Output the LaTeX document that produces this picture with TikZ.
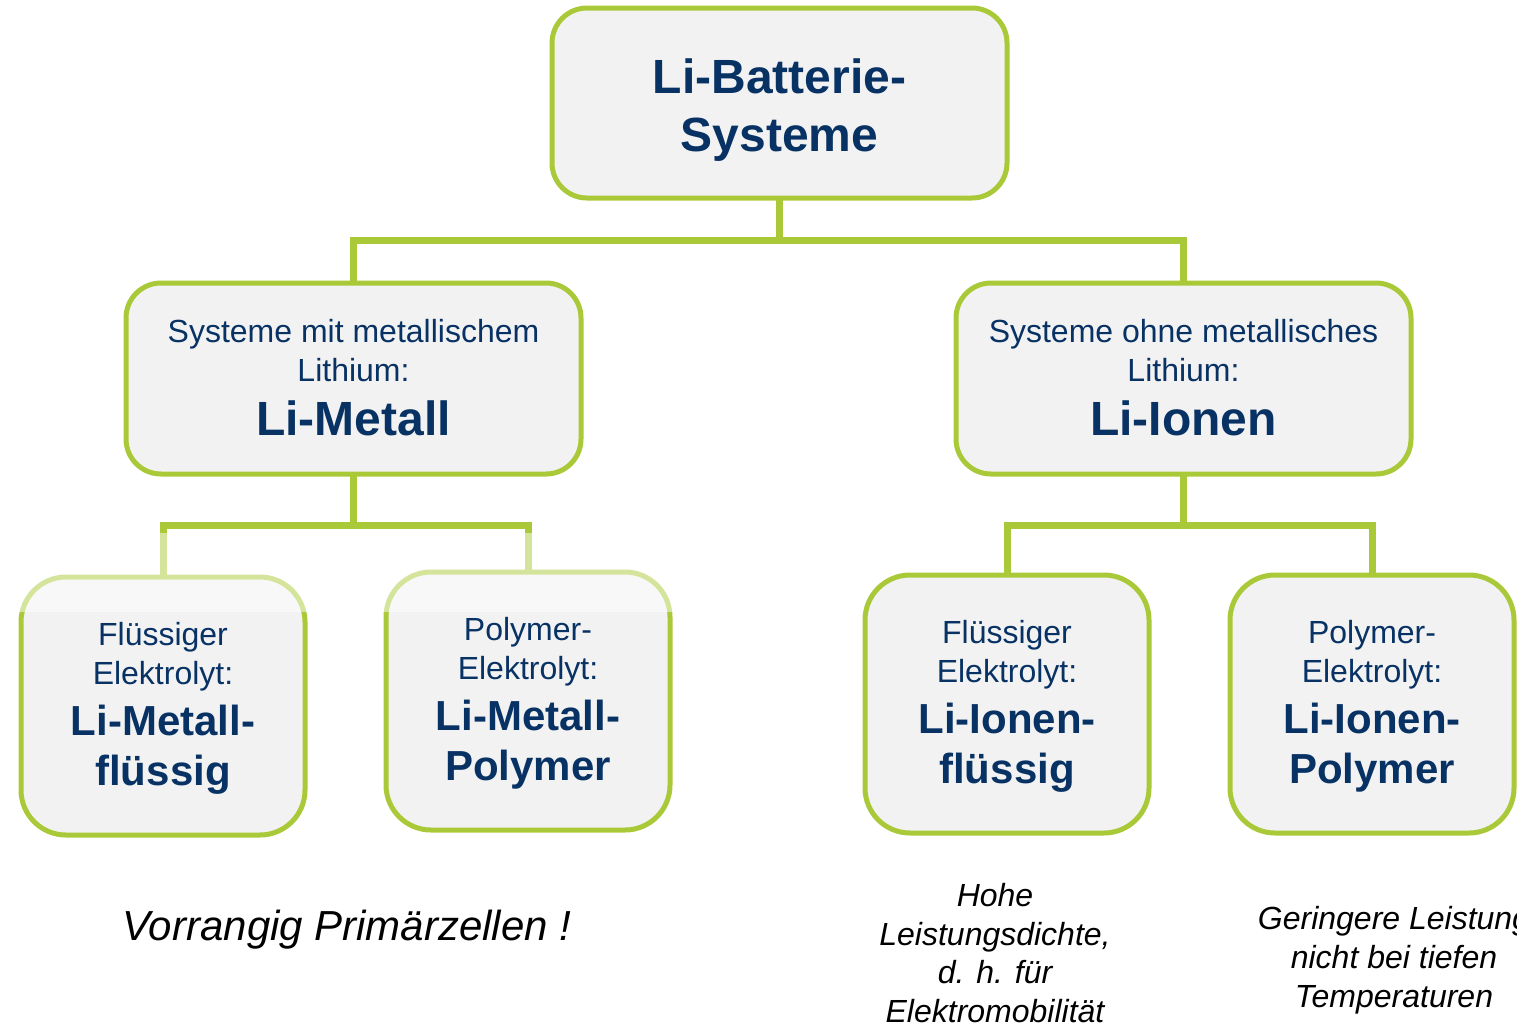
\documentclass[tikz,border=0pt]{standalone}
\usepackage{fontspec}
\setmainfont{Liberation Sans}
\definecolor{lgreen}{RGB}{170,201,56}
\definecolor{navy}{RGB}{8,50,100}
\definecolor{boxfill}{RGB}{242,242,242}
\tikzset{
  box/.style={draw=lgreen, fill=boxfill, line width=5pt, rounded corners=#1, inner sep=0pt, outer sep=0pt},
  conn/.style={draw=lgreen, line width=7pt},
  small/.style={anchor=base, inner sep=0pt, text=navy, font={\fontsize{32pt}{38pt}\selectfont}},
  bigA/.style={anchor=base, inner sep=0pt, text=navy, font={\fontsize{48pt}{58pt}\selectfont\bfseries}},
  bigB/.style={anchor=base, inner sep=0pt, text=navy, font={\fontsize{42pt}{50pt}\selectfont\bfseries}},
  note/.style={anchor=base, inner sep=0pt, text=black, font={\fontsize{32pt}{38pt}\selectfont\itshape}},
  notebig/.style={anchor=base, inner sep=0pt, text=black, font={\fontsize{42pt}{50pt}\selectfont\itshape}},
}
\begin{document}
\begin{tikzpicture}[x=1pt, y=-1pt]
\useasboundingbox (0,0) rectangle (1517,1026);
% boxes
\node[box=35pt, minimum width=455pt, minimum height=190pt] (top) at (779.5,103) {};
\node[box=35pt, minimum width=455pt, minimum height=191pt] (ml) at (353.5,378.5) {};
\node[box=35pt, minimum width=455pt, minimum height=191pt] (mr) at (1183.5,378.5) {};
\node[box=45pt, minimum width=284pt, minimum height=258pt] (bl1) at (163,706) {};
\node[box=45pt, minimum width=284pt, minimum height=258pt] (bl2) at (528,701) {};
\node[box=45pt, minimum width=284pt, minimum height=258pt] (br1) at (1007,704) {};
\node[box=45pt, minimum width=284pt, minimum height=258pt] (br2) at (1372,704) {};
% connectors
\coordinate (j1) at (779.5,240);
\coordinate (j2) at (353.5,525);
\coordinate (j3) at (1183.5,525);
\begin{scope}[on background layer/.style={}]
\draw[conn] (top.south) -- (j1);
\draw[conn] (ml.north) |- (j1) -| (mr.north);
\draw[conn] (ml.south) -- (j2);
\draw[conn] (bl1.north) |- (j2) -| (bl2.north);
\draw[conn] (mr.south) -- (j3);
\draw[conn] (br1.north) |- (j3) -| (br2.north);
\end{scope}
% faded tops of the left lower boxes
\fill[white, opacity=0.5] (14,533) rectangle (312,612);
\fill[white, opacity=0.5] (379,533) rectangle (677,612);
% texts
\node[bigA] (t1) at (779.5,93) {Li-Batterie-};
\node[bigA] (t2) at (779.5,151) {Systeme};
\node[small] (ml1) at (353.5,342) {Systeme mit metallischem};
\node[small] (ml2) at (353.5,381) {Lithium:};
\node[bigA] (ml3) at (353.5,435) {Li-Metall};
\node[small] (mr1) at (1183.5,342) {Systeme ohne metallisches};
\node[small] (mr2) at (1183.5,381) {Lithium:};
\node[bigA] (mr3) at (1183.5,435) {Li-Ionen};
\node[small] (a1) at (163,645) {Flüssiger};
\node[small] (a2) at (163,684) {Elektrolyt:};
\node[bigB] (a3) at (163,735) {Li-Metall-};
\node[bigB] (a4) at (163,785) {flüssig};
\node[small] (b1) at (528,640) {Polymer-};
\node[small] (b2) at (528,679) {Elektrolyt:};
\node[bigB] (b3) at (528,730) {Li-Metall-};
\node[bigB] (b4) at (528,780) {Polymer};
\node[small] (c1) at (1007,643) {Flüssiger};
\node[small] (c2) at (1007,682) {Elektrolyt:};
\node[bigB] (c3) at (1007,733) {Li-Ionen-};
\node[bigB] (c4) at (1007,783) {flüssig};
\node[small] (d1) at (1372,643) {Polymer-};
\node[small] (d2) at (1372,682) {Elektrolyt:};
\node[bigB] (d3) at (1372,733) {Li-Ionen-};
\node[bigB] (d4) at (1372,783) {Polymer};
% notes
\node[notebig] (n1) at (347,940) {Vorrangig Primärzellen !};
\node[note] (n2) at (995,906) {Hohe};
\node[note] (n3) at (995,945) {Leistungsdichte,};
\node[note] (n4) at (995,983) {d. h. für};
\node[note] (n5) at (995,1022) {Elektromobilität};
\node[note] (n6) at (1394,929) {Geringere Leistung};
\node[note] (n7) at (1394,968) {nicht bei tiefen};
\node[note] (n8) at (1394,1007) {Temperaturen};
\end{tikzpicture}
\end{document}
